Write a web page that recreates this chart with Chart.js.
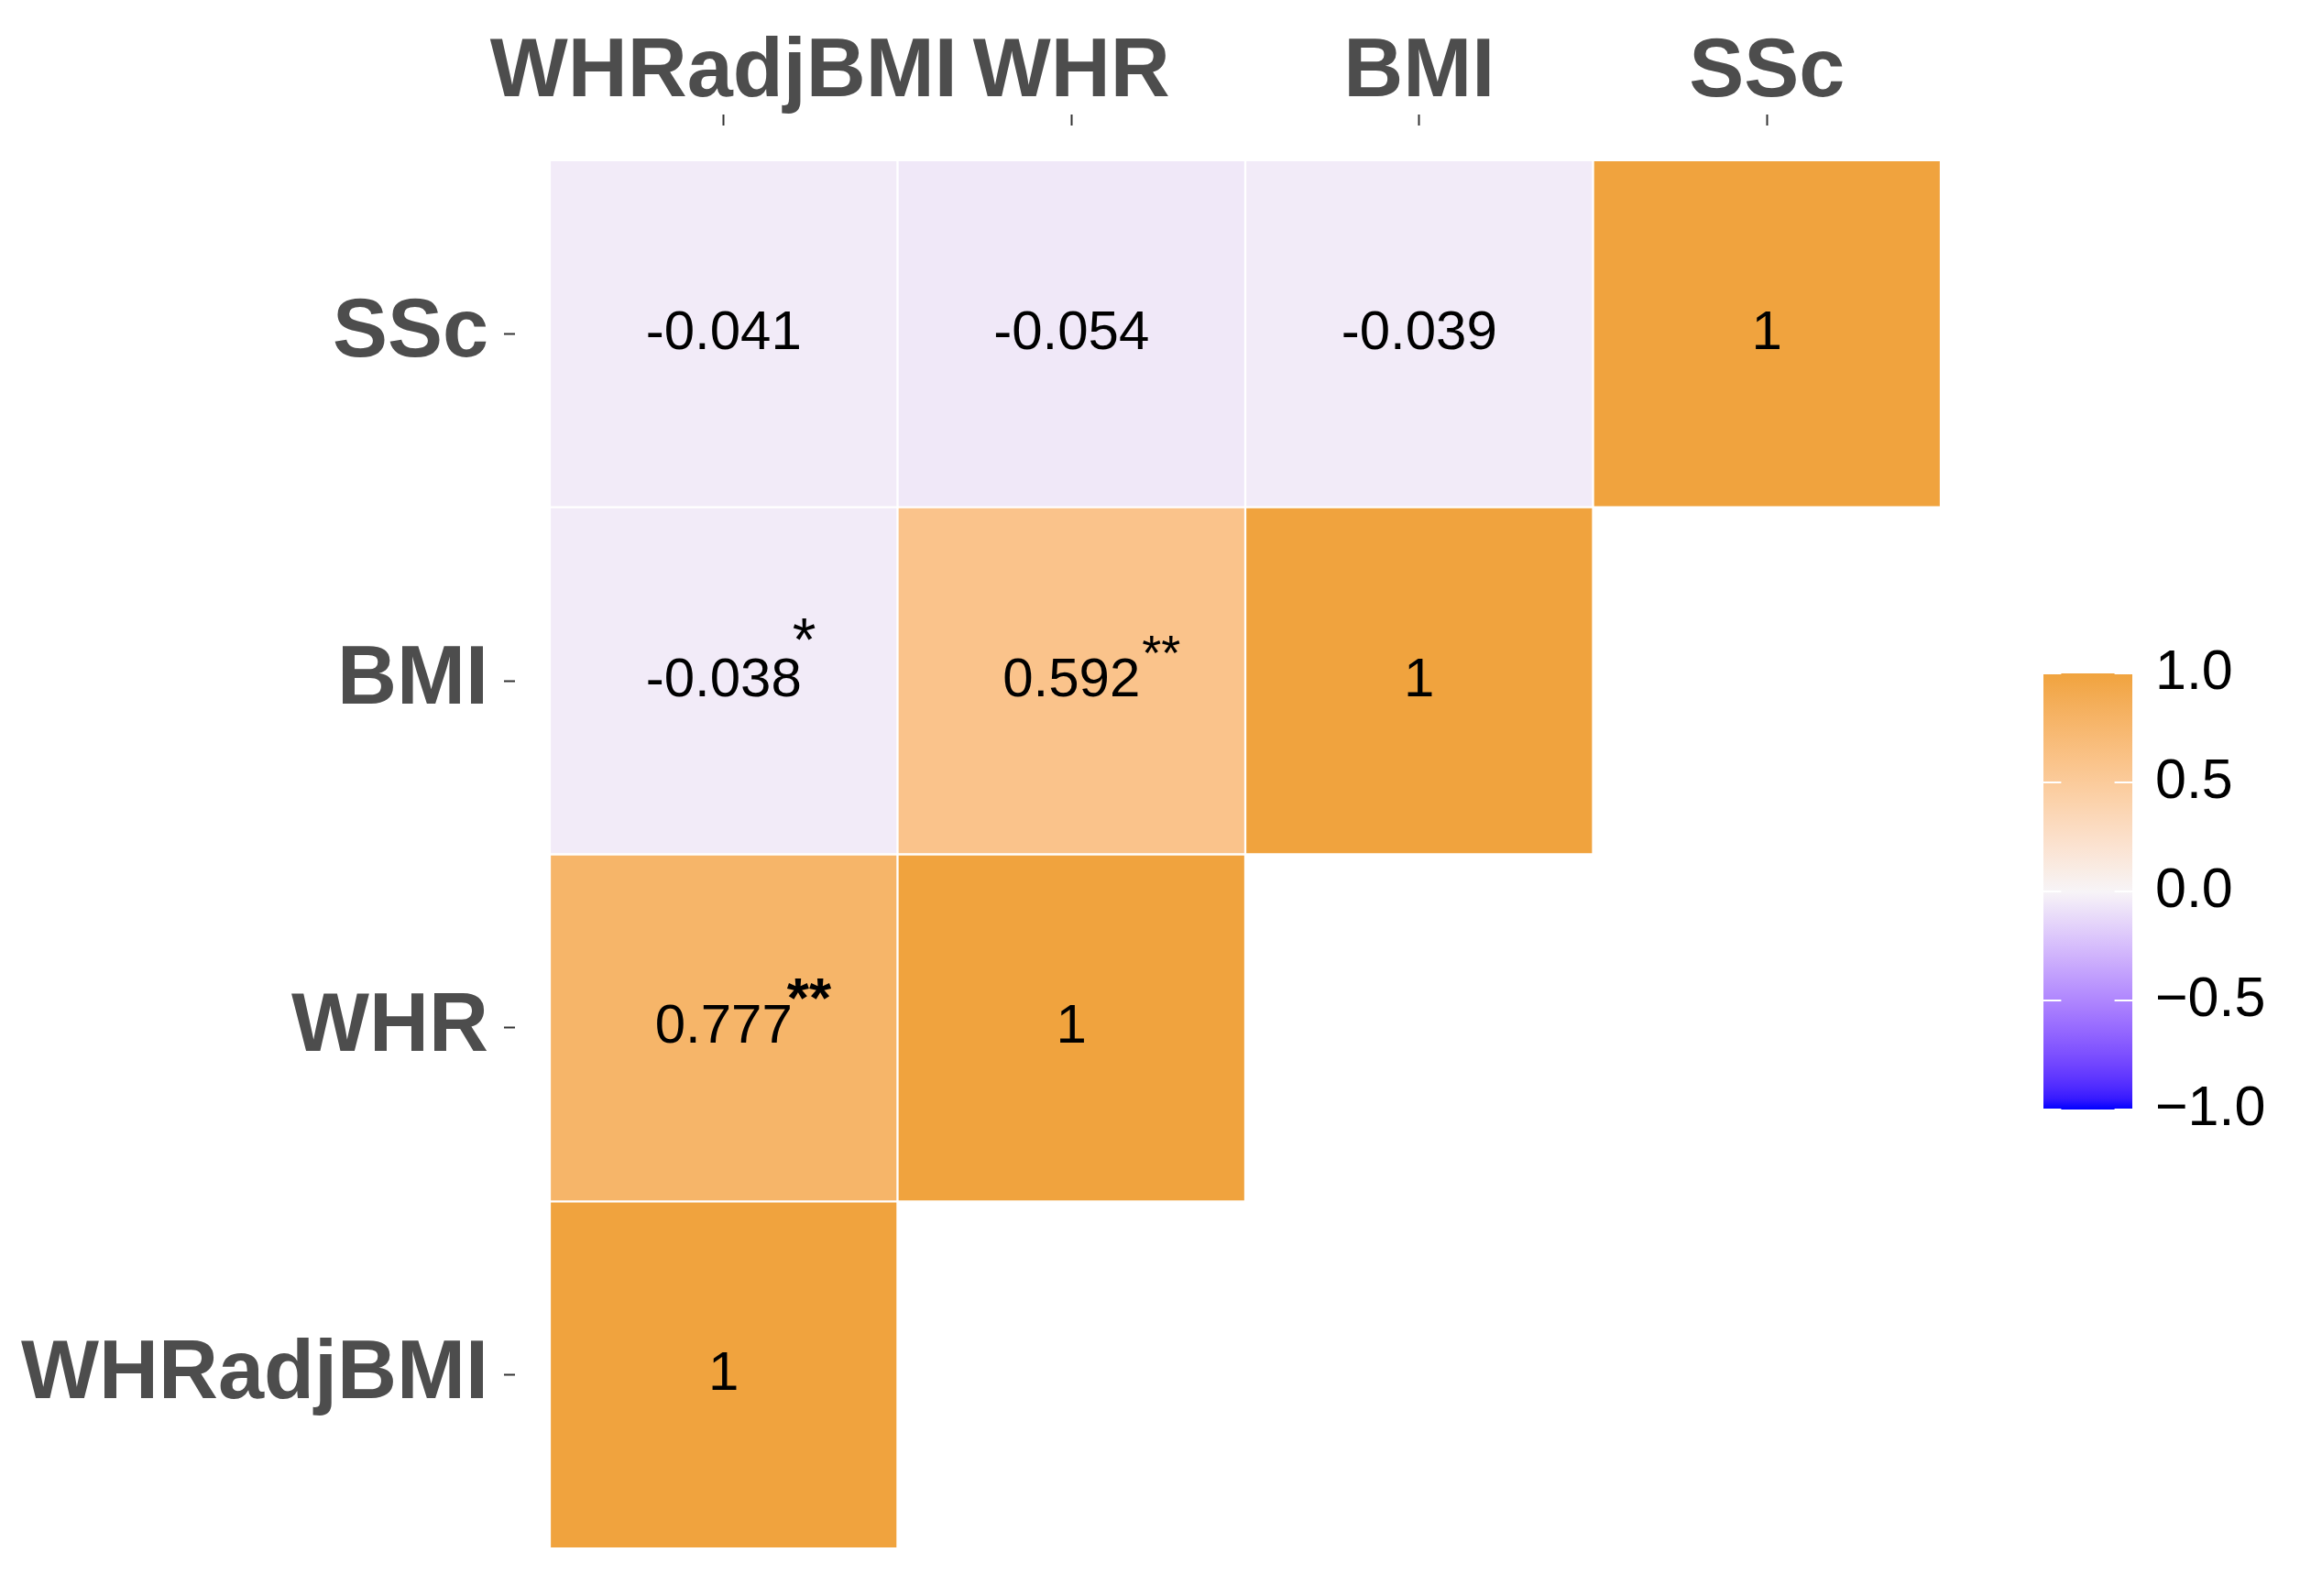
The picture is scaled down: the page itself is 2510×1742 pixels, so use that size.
<!DOCTYPE html>
<html>
<head>
<meta charset="utf-8">
<script src="https://cdn.jsdelivr.net/npm/chart.js@4.4.1/dist/chart.umd.min.js"></script>
<style>
  html, body { margin: 0; padding: 0; background: #fff; }
  canvas { display: block; }
</style>
</head>
<body>
<canvas id="corrChart" width="2510" height="1742"></canvas>
<script>
// Variables, left to right on x and bottom to top on y
const variables = ['WHRadjBMI', 'WHR', 'BMI', 'SSc'];

// Lower triangle of the correlation matrix, one array per row (columns start at WHRadjBMI)
const corrWHRadjBMI = [1];
const corrWHR = [0.777, 1];
const corrBMI = [-0.038, 0.592, 1];
const corrSSc = [-0.041, -0.054, -0.039, 1];

// Significance stars, same layout
const starsWHRadjBMI = [''];
const starsWHR = ['**', ''];
const starsBMI = ['*', '**', ''];
const starsSSc = ['', '', '', ''];

// Colour bar breaks
const legendTicks = [1.0, 0.5, 0.0, -0.5, -1.0];

const rows = [
    { values: corrWHRadjBMI, stars: starsWHRadjBMI },
    { values: corrWHR, stars: starsWHR },
    { values: corrBMI, stars: starsBMI },
    { values: corrSSc, stars: starsSSc }
];

const FONT = '"Liberation Sans", Arial, Helvetica, sans-serif';
const lowColor = [0, 0, 255];
const midColor = [247, 244, 247];
const highColor = [240, 163, 62];

// sRGB <-> Lab so the gradient blends like ggplot's scale_fill_gradient2
function toLinear(c) {
    c /= 255;
    return c <= 0.04045 ? c / 12.92 : Math.pow((c + 0.055) / 1.055, 2.4);
}
function fromLinear(c) {
    c = c <= 0.0031308 ? 12.92 * c : 1.055 * Math.pow(c, 1 / 2.4) - 0.055;
    return Math.round(Math.min(1, Math.max(0, c)) * 255);
}
function rgbToLab(rgb) {
    const [r, g, b] = rgb.map(toLinear);
    const x = (0.4124 * r + 0.3576 * g + 0.1805 * b) / 0.95047;
    const y = 0.2126 * r + 0.7152 * g + 0.0722 * b;
    const z = (0.0193 * r + 0.1192 * g + 0.9505 * b) / 1.08883;
    const f = t => t > 0.008856 ? Math.cbrt(t) : 7.787 * t + 16 / 116;
    const fx = f(x), fy = f(y), fz = f(z);
    return [116 * fy - 16, 500 * (fx - fy), 200 * (fy - fz)];
}
function labToRgb(lab) {
    const fy = (lab[0] + 16) / 116;
    const fx = fy + lab[1] / 500;
    const fz = fy - lab[2] / 200;
    const inv = t => t > 0.206893 ? t * t * t : (t - 16 / 116) / 7.787;
    const x = inv(fx) * 0.95047, y = inv(fy), z = inv(fz) * 1.08883;
    const r = 3.2406 * x - 1.5372 * y - 0.4986 * z;
    const g = -0.9689 * x + 1.8758 * y + 0.0415 * z;
    const b = 0.0557 * x - 0.2040 * y + 1.0570 * z;
    return [fromLinear(r), fromLinear(g), fromLinear(b)];
}
const labLow = rgbToLab(lowColor), labMid = rgbToLab(midColor), labHigh = rgbToLab(highColor);
function colorFor(v) {
    const t = Math.min(1, Math.abs(v));
    const end = v >= 0 ? labHigh : labLow;
    const lab = labMid.map((m, i) => m + (end[i] - m) * t);
    const [r, g, b] = labToRgb(lab);
    return `rgb(${r},${g},${b})`;
}

function formatValue(v) {
    return v === 1 ? '1' : v.toFixed(3);
}

// One floating-bar dataset per row, each bar spans one cell
const datasets = rows.map((row, i) => ({
    label: variables[i],
    data: row.values.map((v, j) => ({ x: j, y: [i - 0.5, i + 0.5], v: v, star: row.stars[j] })),
    backgroundColor: ctx => colorFor(ctx.raw.v),
    borderColor: '#ffffff',
    borderWidth: 1.5,
    borderSkipped: false,
    grouped: false,
    barPercentage: 1,
    categoryPercentage: 1
}));

// Numbers and stars inside the tiles
const cellLabels = {
    id: 'cellLabels',
    afterDatasetsDraw(chart) {
        const ctx = chart.ctx;
        const xs = chart.scales.x, ys = chart.scales.y;
        ctx.save();
        chart.data.datasets.forEach((ds, i) => {
            ds.data.forEach(d => {
                const cx = xs.getPixelForValue(d.x);
                const cy = ys.getPixelForValue(i);
                const text = formatValue(d.v);
                ctx.font = `60px ${FONT}`;
                ctx.fillStyle = '#000';
                ctx.textAlign = 'center';
                ctx.textBaseline = 'middle';
                ctx.fillText(text, cx, cy);
                if (d.star) {
                    const w = ctx.measureText(text).width;
                    const bold = d.star === '**' && d.v > 0.7;
                    const single = d.star === '*';
                    ctx.font = `${bold ? 'bold 62px' : (single ? '66px' : '54px')} ${FONT}`;
                    ctx.textAlign = 'left';
                    ctx.textBaseline = 'alphabetic';
                    const dx = bold ? -6 : (single ? -10 : 2);
                    const dy = single ? 22 : 12;
                    ctx.fillText(d.star, cx + w / 2 + dx, cy - dy);
                }
            });
        });
        ctx.restore();
    }
};

// Colour bar legend on the right
const colorBar = {
    id: 'colorBar',
    afterDraw(chart) {
        const ctx = chart.ctx;
        const left = 2230, right = 2327, top = 735, bottom = 1211;
        const yFor = v => top + (1 - v) / 2 * (bottom - top);
        ctx.save();
        const grad = ctx.createLinearGradient(0, top, 0, bottom);
        for (let k = 0; k <= 40; k++) {
            grad.addColorStop(k / 40, colorFor(1 - 2 * k / 40));
        }
        ctx.fillStyle = grad;
        ctx.fillRect(left, top, right - left, bottom - top);

        const tickLen = (right - left) / 5;
        ctx.strokeStyle = '#ffffff';
        ctx.lineWidth = 2;
        legendTicks.forEach(v => {
            const y = yFor(v);
            ctx.beginPath();
            ctx.moveTo(left, y); ctx.lineTo(left + tickLen, y);
            ctx.moveTo(right - tickLen, y); ctx.lineTo(right, y);
            ctx.stroke();
        });

        ctx.fillStyle = '#000';
        ctx.font = `61px ${FONT}`;
        ctx.textAlign = 'left';
        ctx.textBaseline = 'middle';
        legendTicks.forEach(v => {
            ctx.fillText(v.toFixed(1).replace('-', '\u2212'), 2352, yFor(v));
        });
        ctx.restore();
    }
};

const axisTicks = {
    font: { family: FONT, size: 90, weight: 'bold', lineHeight: 1 },
    color: '#4D4D4D'
};

new Chart(document.getElementById('corrChart').getContext('2d'), {
    type: 'bar',
    data: { datasets: datasets },
    options: {
        responsive: false,
        animation: false,
        devicePixelRatio: 1,
        layout: { padding: { top: 0, left: 0, right: 354, bottom: 14 } },
        plugins: { legend: { display: false }, tooltip: { enabled: false } },
        scales: {
            x: {
                type: 'linear',
                position: 'top',
                min: -0.6,
                max: 3.6,
                offset: false,
                afterBuildTicks: scale => { scale.ticks = variables.map((_, i) => ({ value: i })); },
                afterFit: scale => { scale.height = 137; scale.paddingLeft = 0; scale.paddingRight = 0; },
                ticks: Object.assign({ padding: 0, maxRotation: 0, autoSkip: false, callback: v => variables[v] }, axisTicks),
                grid: { offset: false, drawOnChartArea: false, drawTicks: true, tickLength: 12, tickColor: '#333333', tickWidth: 2 },
                border: { display: false }
            },
            y: {
                type: 'linear',
                min: -0.6,
                max: 3.6,
                afterBuildTicks: scale => { scale.ticks = variables.map((_, i) => ({ value: i })); },
                afterFit: scale => { scale.width = 562; scale.paddingTop = 0; scale.paddingBottom = 0; },
                ticks: Object.assign({ padding: 17, autoSkip: false, callback: v => variables[v] }, axisTicks),
                grid: { drawOnChartArea: false, drawTicks: true, tickLength: 12, tickColor: '#333333', tickWidth: 2 },
                border: { display: false }
            }
        }
    },
    plugins: [cellLabels, colorBar]
});
</script>
</body>
</html>
